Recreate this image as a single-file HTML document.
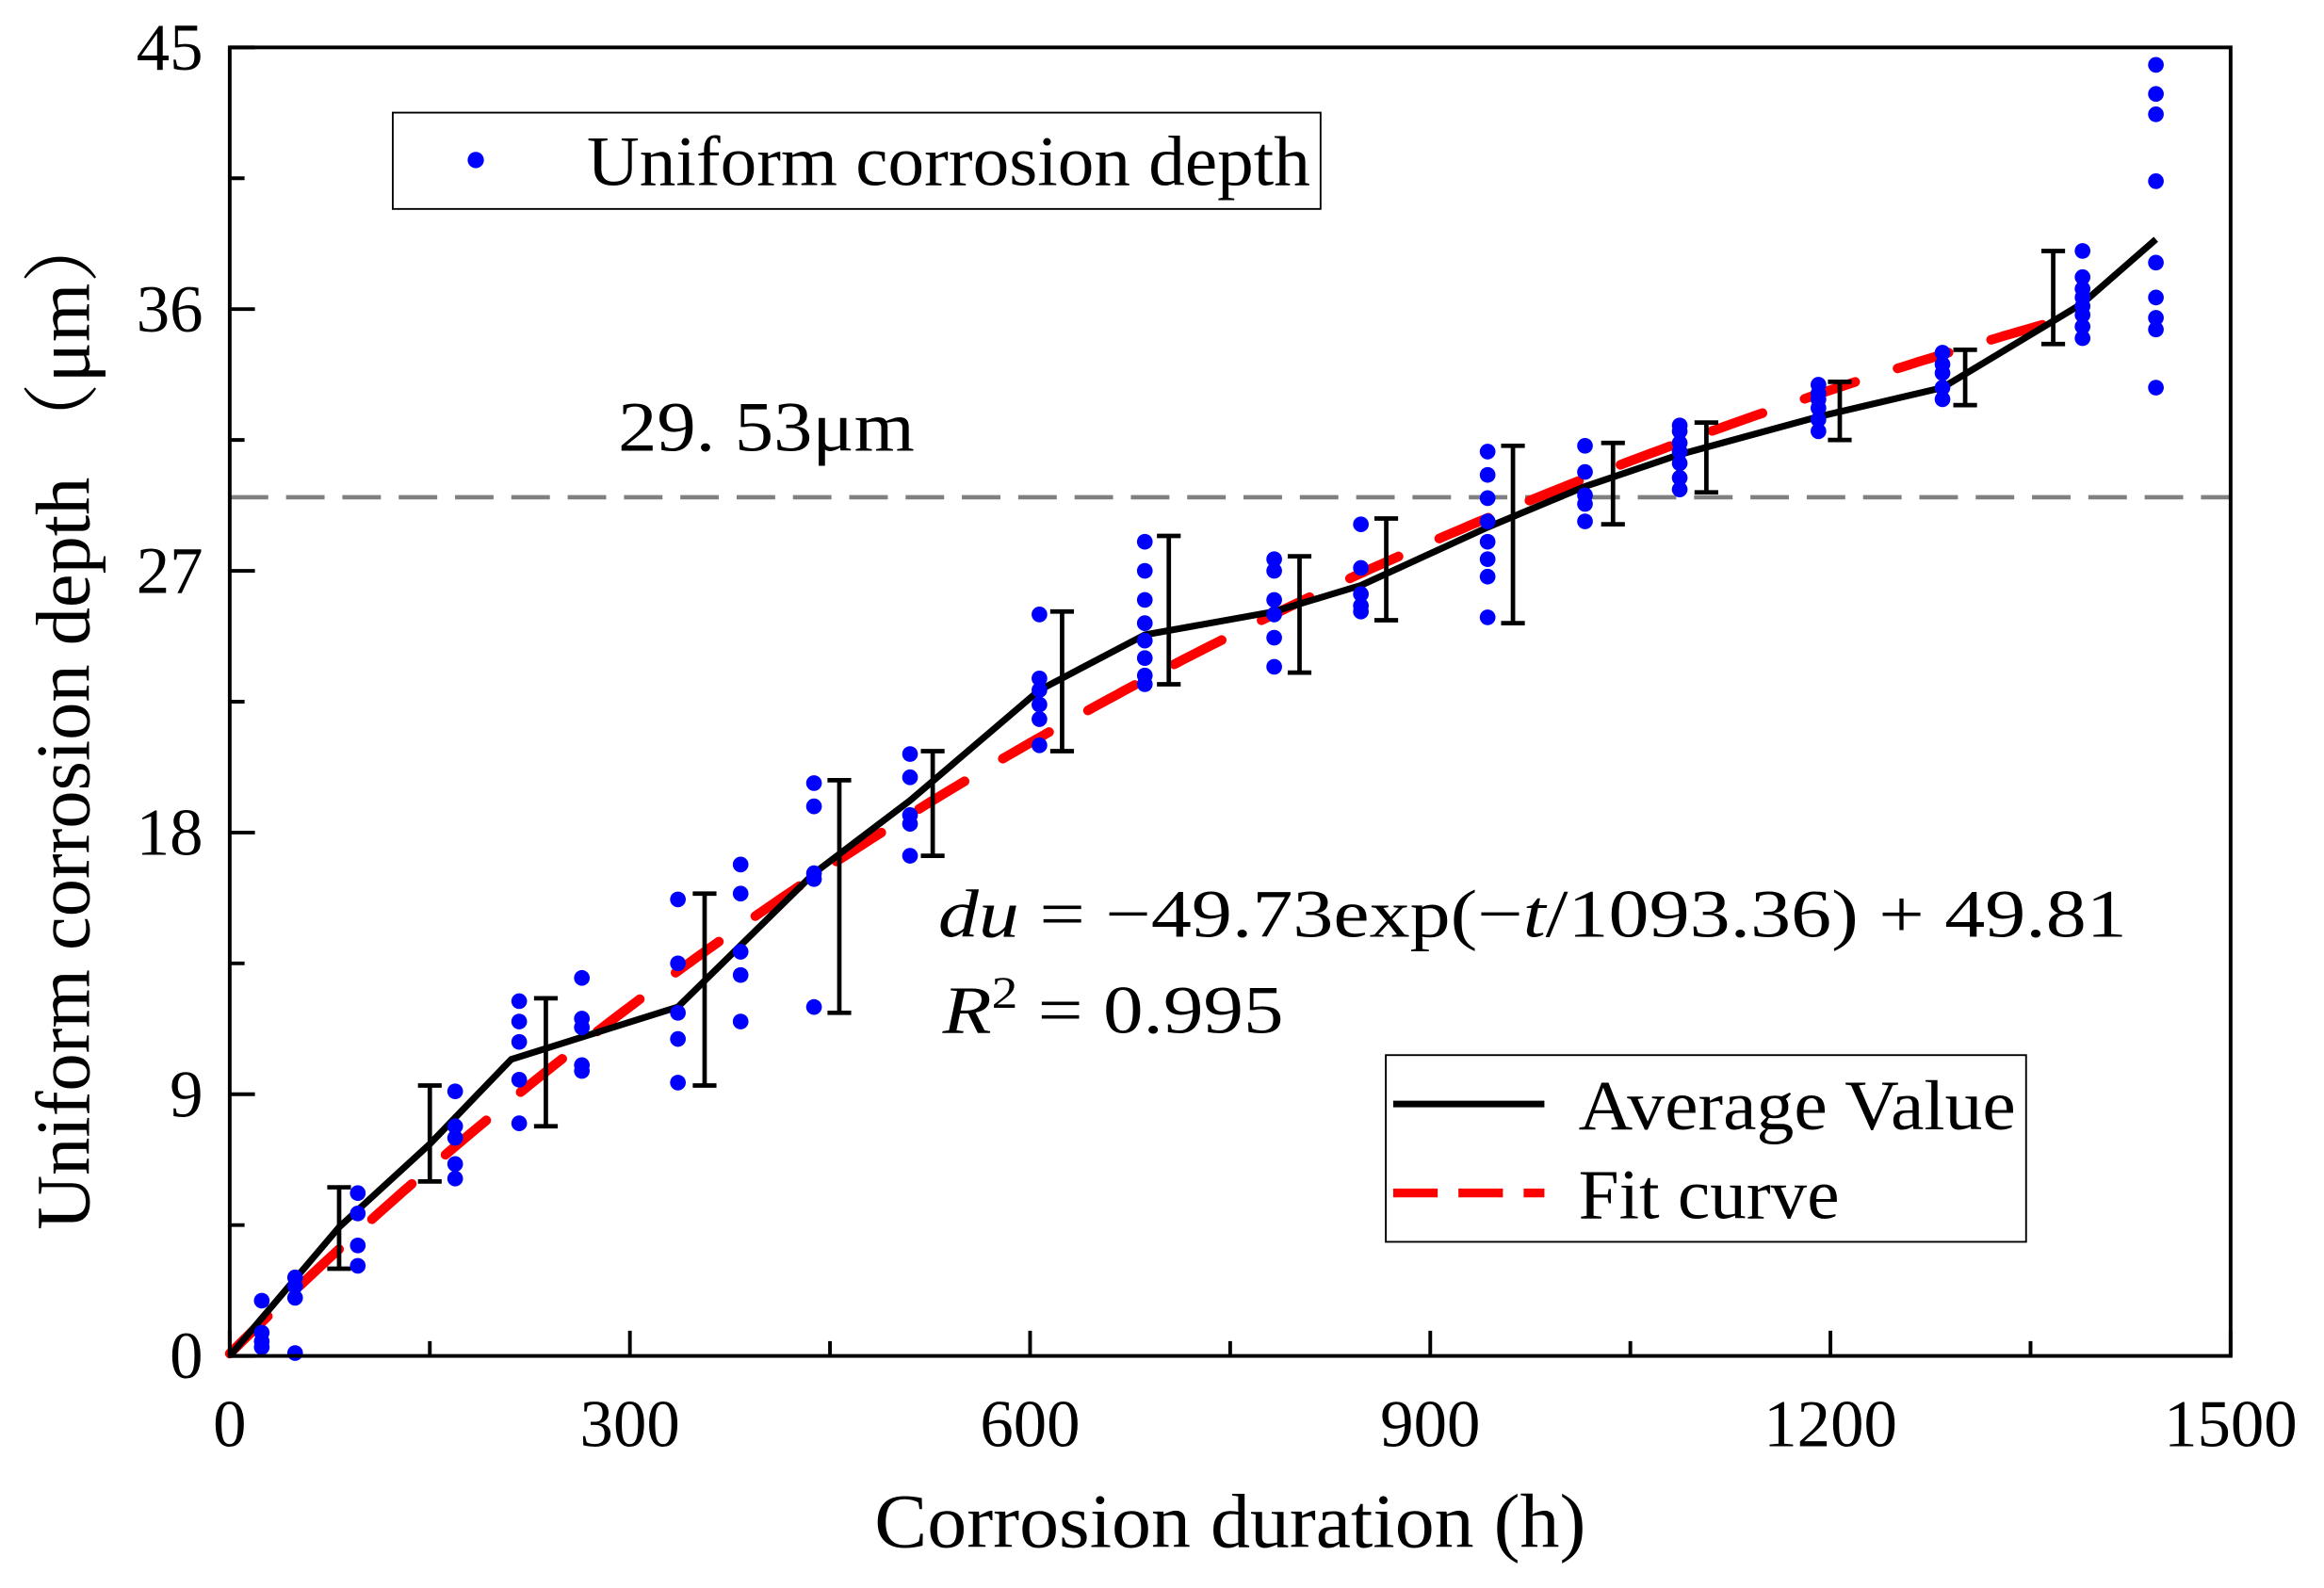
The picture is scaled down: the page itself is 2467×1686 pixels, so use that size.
<!DOCTYPE html>
<html><head><meta charset="utf-8">
<style>html,body{margin:0;padding:0;background:#fff;}svg{display:block;}</style>
</head><body>
<svg id="chart" width="2467" height="1686" viewBox="0 0 1568 1071.6" preserveAspectRatio="none" xmlns="http://www.w3.org/2000/svg" font-family="'Liberation Serif', serif">
<rect x="0" y="0" width="1568" height="1072" fill="#fff"/>
<g id="g-ref"></g>
<g id="g-fit"></g>
<g id="g-avg"></g>
<g id="g-err"></g>
<g id="g-pts"></g>
<g id="g-axes"></g>
<text x="417" y="304" font-size="48" textLength="200" lengthAdjust="spacingAndGlyphs">29. 53μm</text>
<text x="633" y="632" font-size="46" textLength="802" lengthAdjust="spacingAndGlyphs"><tspan font-style="italic">du</tspan> = −49.73exp(−<tspan font-style="italic">t</tspan>/1093.36) + 49.81</text>
<text x="636" y="697" font-size="46" textLength="230" lengthAdjust="spacingAndGlyphs"><tspan font-style="italic">R</tspan><tspan dy="-17" font-size="30">2</tspan><tspan dy="17"> = 0.995</tspan></text>
<g>
<rect x="265" y="76" width="626" height="65" fill="#fff" stroke="#000" stroke-width="1.2"/>
<circle cx="321" cy="108" r="5.5" fill="#0000ff"/>
<text x="396" y="125" font-size="48" textLength="488" lengthAdjust="spacingAndGlyphs">Uniform corrosion depth</text>
</g>
<g>
<rect x="935" y="712" width="432" height="126" fill="#fff" stroke="#000" stroke-width="1.2"/>
<line x1="940" y1="745" x2="1042" y2="745" stroke="#000" stroke-width="4.5"/>
<text x="1065" y="762" font-size="48" textLength="295" lengthAdjust="spacingAndGlyphs">Average Value</text>
<line x1="940" y1="805" x2="1042" y2="805" stroke="#ff0000" stroke-width="6" stroke-dasharray="30 14"/>
<text x="1065" y="822" font-size="48" textLength="176" lengthAdjust="spacingAndGlyphs">Fit curve</text>
</g>
<text x="830" y="1044" font-size="52" text-anchor="middle" textLength="480" lengthAdjust="spacingAndGlyphs">Corrosion duration (h)</text>
<text transform="translate(60,485) rotate(-90)" font-size="52" text-anchor="middle" textLength="690" lengthAdjust="spacingAndGlyphs" font-family="'Liberation Serif','Noto Serif CJK SC',serif">Uniform corrosion depth （μm）</text>
</svg>
<script>
const xTicks = [0, 300, 600, 900, 1200, 1500];
const yTicks = [0, 9, 18, 27, 36, 45];
const refValue = 29.53;
const fitParams = [-49.73, 1093.36, 49.81];
const fitRange = [0, 1389];
const sampleTimes = [24, 49, 96, 169, 217, 264, 336, 383, 438, 510, 607, 686, 783, 848, 943, 1016, 1087, 1191, 1284, 1389, 1444];
const sampleDepths = [
 [1.9,0.8,0.5,0.3],[2.7,2.4,2.0,0.1],[5.6,4.9,3.8,3.1],[9.1,7.9,7.5,6.6,6.1],
 [12.2,11.5,10.8,9.5,8.0],[13.0,11.6,11.3,10.0,9.8],[15.7,13.5,11.8,10.9,9.4],
 [16.9,15.9,13.9,13.1,11.5],[19.7,18.9,16.6,16.4,12.0],[20.7,19.9,18.6,18.3,17.2],
 [25.5,23.3,22.9,22.4,21.9,21.0],[28.0,27.0,26.0,25.2,24.6,24.0,23.4,23.1],
 [27.4,27.0,26.0,25.5,24.7,23.7],[28.6,27.1,26.2,25.8,25.6],
 [31.1,30.3,29.5,28.7,28.0,27.4,26.8,25.4],[31.3,30.4,29.6,29.3,28.7],
 [32.0,31.8,31.4,31.1,30.7,30.2,29.8],[33.4,33.1,32.9,32.6,32.2,31.8],
 [34.5,34.1,33.8,33.3,32.9],[38.0,37.1,36.7,36.4,36.1,35.8,35.4,35.0],
 [44.4,43.4,42.7,40.4,37.6,36.4,35.7,35.3,33.3]];
const avgTimes = [0,82,150,211,336,438,510,607,686,783,848,943,1016,1087,1191,1284,1389,1444];
const avgValues = [0,4.43,7.29,10.2,12.0,16.6,19.1,22.9,24.8,25.6,26.5,28.5,29.9,31.0,32.3,33.3,36.2,38.4];
const errTimes = [82,150,237,356,457,527,624,704,802,867,962,1037,1107,1207,1301,1367];
const errLow = [3.0,6.0,7.9,9.3,11.8,17.2,20.8,23.1,23.5,25.3,25.2,28.6,29.7,31.5,32.7,34.8];
const errHigh = [5.8,9.3,12.3,15.9,19.8,20.8,25.6,28.2,27.5,28.8,31.3,31.4,32.1,33.5,34.6,38.0];

const NS = 'http://www.w3.org/2000/svg';
const X0 = 155, X1 = 1505, Y0 = 915, Y1 = 32;
function sx(v){ return X0 + (v - 0) / 1500 * (X1 - X0); }
function sy(v){ return Y0 - (v - 0) / 45 * (Y0 - Y1); }
function mk(tag, attrs, parent){
  const e = document.createElementNS(NS, tag);
  for (const k in attrs) e.setAttribute(k, attrs[k]);
  parent.appendChild(e); return e;
}
const gRef = document.getElementById('g-ref');
const ref = mk('line', {x1:X0, x2:X1, y1:sy(refValue), y2:sy(refValue), stroke:'#808080', 'stroke-width':3, 'stroke-dasharray':'26 12'}, gRef);


const gFit = document.getElementById('g-fit');
let fd = '';
for (let t = fitRange[0]; t <= fitRange[1]; t += 5) {
  const v = fitParams[0] * Math.exp(-t / fitParams[1]) + fitParams[2];
  fd += (fd ? 'L' : 'M') + sx(t).toFixed(1) + ' ' + sy(v).toFixed(1);
}
const fit = mk('path', {d:fd, fill:'none', stroke:'#ff0000', 'stroke-width':6.5, 'stroke-dasharray':'36 30', 'stroke-linecap':'round'}, gFit);


const gAvg = document.getElementById('g-avg');
let ad = '';
avgTimes.forEach((t, i) => { ad += (i ? 'L' : 'M') + sx(t).toFixed(1) + ' ' + sy(avgValues[i]).toFixed(1); });
const avg = mk('path', {d:ad, fill:'none', stroke:'#000', 'stroke-width':4.5, 'stroke-linejoin':'round'}, gAvg);


const gErr = document.getElementById('g-err');
errTimes.forEach((t, i) => {
  const g = mk('g', {stroke:'#000', 'stroke-width':3}, gErr);
  
  
  const x = sx(t), ya = sy(errLow[i]), yb = sy(errHigh[i]);
  mk('line', {x1:x, x2:x, y1:ya, y2:yb}, g);
  mk('line', {x1:x-8, x2:x+8, y1:ya, y2:ya}, g);
  mk('line', {x1:x-8, x2:x+8, y1:yb, y2:yb}, g);
});
const gPts = document.getElementById('g-pts');
sampleTimes.forEach((t, i) => {
  sampleDepths[i].forEach(v => {
    const c = mk('circle', {cx:sx(t), cy:sy(v), r:5.3, fill:'#0000ff'}, gPts);
    
    
  });
});
const gAx = document.getElementById('g-axes');
const frame = mk('rect', {x:X0, y:Y1, width:X1-X0, height:Y0-Y1, fill:'none', stroke:'#000', 'stroke-width':2.5}, gAx);


for (let i = 0; i < xTicks.length; i++) {
  const x = sx(xTicks[i]);
  mk('line', {x1:x, x2:x, y1:Y0, y2:Y0-17, stroke:'#000', 'stroke-width':2.5}, gAx);
  if (i < xTicks.length - 1) {
    const xm = sx((xTicks[i] + xTicks[i+1]) / 2);
    mk('line', {x1:xm, x2:xm, y1:Y0, y2:Y0-10, stroke:'#000', 'stroke-width':2.5}, gAx);
  }
  const tl = mk('text', {x:x, y:976, 'font-size':45, 'text-anchor':'middle'}, gAx);
  tl.textContent = xTicks[i];
  
  
}
for (let i = 0; i < yTicks.length; i++) {
  const y = sy(yTicks[i]);
  mk('line', {x1:X0, x2:X0+17, y1:y, y2:y, stroke:'#000', 'stroke-width':2.5}, gAx);
  if (i < yTicks.length - 1) {
    const ym = sy((yTicks[i] + yTicks[i+1]) / 2);
    mk('line', {x1:X0, x2:X0+10, y1:ym, y2:ym, stroke:'#000', 'stroke-width':2.5}, gAx);
  }
  const tl = mk('text', {x:137, y:y+15, 'font-size':45, 'text-anchor':'end'}, gAx);
  tl.textContent = yTicks[i];
  
  
}
</script>
</body></html>
